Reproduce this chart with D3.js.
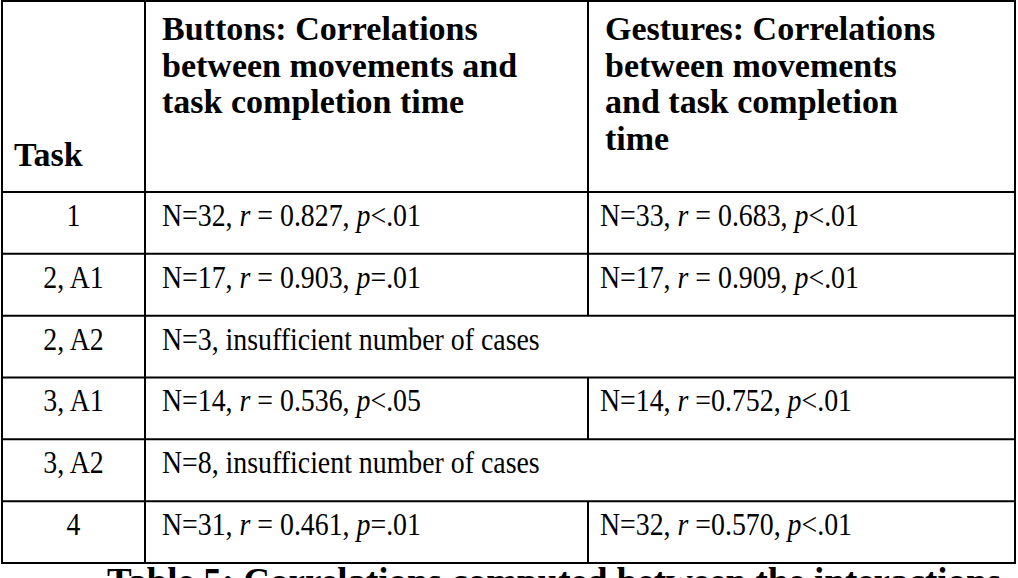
<!DOCTYPE html>
<html>
<head>
<meta charset="utf-8">
<script src="https://d3js.org/d3.v7.min.js"></script>
<style>
  body { margin: 0; background: #fff; }
  text { font-family: 'Liberation Serif', 'Times New Roman', serif; fill: #000; }
</style>
</head>
<body>
<div id="chart"></div>
<script>
var width = 1018, height = 578;

var tasks = ['1', '2, A1', '2, A2', '3, A1', '3, A2', '4'];
var buttonsN = [32, 17, 3, 14, 8, 31];
var buttonsR = ['= 0.827', '= 0.903', null, '= 0.536', null, '= 0.461'];
var buttonsP = ['<.01', '=.01', null, '<.05', null, '=.01'];
var gesturesN = [33, 17, null, 14, null, 32];
var gesturesR = ['= 0.683', '= 0.909', null, '=0.752', null, '=0.570'];
var gesturesP = ['<.01', '<.01', null, '<.01', null, '<.01'];
var headers = [['Task'],
  ['Buttons: Correlations', 'between movements and', 'task completion time'],
  ['Gestures: Correlations', 'between movements', 'and task completion', 'time']];
var caption = 'Table 5: Correlations computed between the interactions';

var svg = d3.select('#chart').append('svg')
  .attr('width', width).attr('height', height);

var colEdges = [2, 145, 588, 1015];
var tableTop = 1, headBottom = 192, tableBottom = 563;
var y = d3.scaleBand().domain(tasks).range([headBottom, tableBottom]);
var sx = 0.87; // body text is narrow in the reference

// header text
svg.append('text').attr('x', 14).attr('y', 166)
  .style('font-size', '34px').style('font-weight', 'bold').text(headers[0][0]);
[1, 2].forEach(function(c) {
  headers[c].forEach(function(line, i) {
    svg.append('text').attr('x', colEdges[c] + 17).attr('y', 40 + i * 36.5)
      .style('font-size', '34px').style('font-weight', 'bold').text(line);
  });
});

var body = svg.append('g').attr('transform', 'scale(' + sx + ',1)');

function cell(x, yy, n, r, p) {
  var t = body.append('text').attr('x', x / sx).attr('y', yy).style('font-size', '32px');
  t.append('tspan').text('N=' + n + ', ');
  t.append('tspan').style('font-style', 'italic').text('r');
  t.append('tspan').text(' ' + r + ', ');
  t.append('tspan').style('font-style', 'italic').text('p');
  t.append('tspan').text(p);
}

tasks.forEach(function(task, i) {
  var yy = y(task) + 34;
  body.append('text').attr('x', (colEdges[0] + colEdges[1]) / 2 / sx).attr('y', yy)
    .attr('text-anchor', 'middle').style('font-size', '32px').text(task);
  if (gesturesN[i] === null) {
    body.append('text').attr('x', (colEdges[1] + 17) / sx).attr('y', yy)
      .style('font-size', '32px').text('N=' + buttonsN[i] + ', insufficient number of cases');
  } else {
    cell(colEdges[1] + 17, yy, buttonsN[i], buttonsR[i], buttonsP[i]);
    cell(colEdges[2] + 12, yy, gesturesN[i], gesturesR[i], gesturesP[i]);
  }
});

// grid lines
var g = svg.append('g').attr('stroke', '#000').attr('stroke-width', 2);
g.append('rect').attr('x', colEdges[0]).attr('y', tableTop)
  .attr('width', colEdges[3] - colEdges[0]).attr('height', tableBottom - tableTop).attr('fill', 'none');
g.append('line').attr('x1', colEdges[1]).attr('x2', colEdges[1]).attr('y1', tableTop).attr('y2', tableBottom);
g.append('line').attr('x1', colEdges[0]).attr('x2', colEdges[3]).attr('y1', headBottom).attr('y2', headBottom);
g.append('line').attr('x1', colEdges[2]).attr('x2', colEdges[2]).attr('y1', tableTop).attr('y2', headBottom);
tasks.forEach(function(task, i) {
  var y0 = y(task), y1 = y0 + y.bandwidth();
  if (i < tasks.length - 1)
    g.append('line').attr('x1', colEdges[0]).attr('x2', colEdges[3]).attr('y1', y1).attr('y2', y1);
  if (gesturesN[i] !== null)
    g.append('line').attr('x1', colEdges[2]).attr('x2', colEdges[2]).attr('y1', y0).attr('y2', y1);
});

svg.append('text').attr('x', width / 2 + 45).attr('y', 594).attr('text-anchor', 'middle')
  .style('font-size', '37px').style('font-weight', 'bold').text(caption);
</script>
</body>
</html>
